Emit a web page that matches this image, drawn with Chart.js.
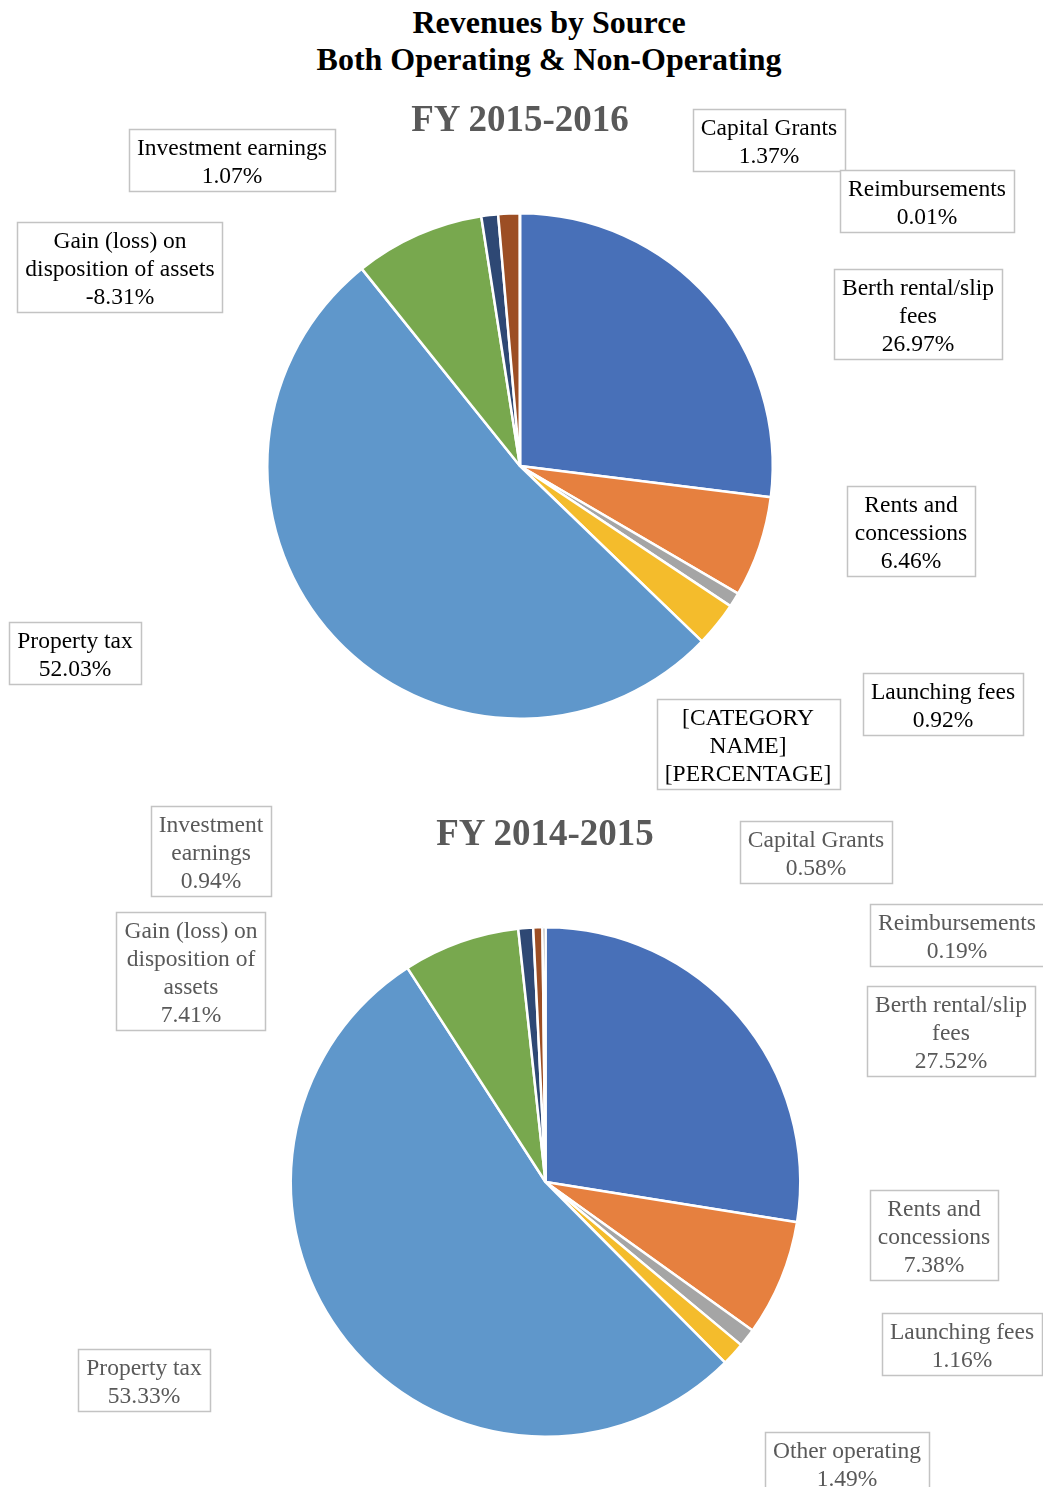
<!DOCTYPE html>
<html>
<head>
<meta charset="utf-8">
<script src="https://cdn.jsdelivr.net/npm/chart.js@4/dist/chart.umd.min.js"></script>
<style>
  body { margin: 0; background: #fff; width: 1043px; height: 1487px; overflow: hidden; position: relative; font-family: "Liberation Serif", "Times New Roman", serif; }
  .title { position: absolute; left: 0; width: 1098px; top: 4px; text-align: center; font-weight: bold; font-size: 32px; line-height: 37px; color: #000; }
  .sub { position: absolute; font-weight: bold; font-size: 37px; color: #595959; text-align: center; width: 400px; }
  #wrap1 { position: absolute; left: 0; top: 0; width: 1043px; height: 800px; }
  #wrap2 { position: absolute; left: 0; top: 790px; width: 1043px; height: 697px; }
</style>
</head>
<body>
<div class="title">Revenues by Source<br>Both Operating &amp; Non-Operating</div>
<div id="wrap1"><canvas id="pie2016"></canvas></div>
<div id="wrap2"><canvas id="pie2015"></canvas></div>
<div class="sub" style="left:320px; top:97px;">FY 2015-2016</div>
<div class="sub" style="left:345px; top:811px;">FY 2014-2015</div>
<script>
// Categories (clockwise from 12 o'clock)
const categories = ['Berth rental/slip fees', 'Rents and concessions', 'Launching fees', 'Other operating',
    'Property tax', 'Gain (loss) on disposition of assets', 'Investment earnings', 'Capital Grants', 'Reimbursements'];

// Percent shares as shown on the labels
const pct2016 = [26.97, 6.46, 0.92, 2.86, 52.03, -8.31, 1.07, 1.37, 0.01];
const pct2015 = [27.52, 7.38, 1.16, 1.49, 53.33, 7.41, 0.94, 0.58, 0.19];

const colors = ['#4870B8', '#E6803F', '#A5A5A5', '#F4BC2C', '#5F97CB', '#78A84E', '#2E4874', '#9C4E24', '#636363'];

// Label wrapping as in the original boxes
const lines2016 = [['Berth rental/slip', 'fees'], ['Rents and', 'concessions'], ['Launching fees'], ['[CATEGORY', 'NAME]'],
    ['Property tax'], ['Gain (loss) on', 'disposition of assets'], ['Investment earnings'], ['Capital Grants'], ['Reimbursements']];
const lines2015 = [['Berth rental/slip', 'fees'], ['Rents and', 'concessions'], ['Launching fees'], ['Other operating'],
    ['Property tax'], ['Gain (loss) on', 'disposition of', 'assets'], ['Investment', 'earnings'], ['Capital Grants'], ['Reimbursements']];

// Label box centres (page px)
const pos2016 = [[918, 314], [911, 531], [943, 704], [748, 744], [75, 653], [120, 267], [232, 160], [769, 140], [927, 201]];
const pos2015 = [[951, 1031], [934, 1235], [962, 1344], [847, 1463], [144, 1380], [191, 971], [211, 851], [816, 852], [957, 935]];

function fmt(v) { return v.toFixed(2) + '%'; }

const boxLabels = {
    id: 'boxLabels',
    afterDraw(chart, args, opts) {
        const ctx = chart.ctx;
        ctx.save();
        ctx.font = '23.5px "Liberation Serif", "Times New Roman", serif';
        ctx.textAlign = 'center';
        ctx.textBaseline = 'middle';
        const lh = 28;
        opts.lines.forEach((ln, i) => {
            let txt = ln.slice();
            if (opts.placeholder && i === opts.placeholder.index) txt.push(opts.placeholder.text);
            else txt.push(fmt(opts.pct[i]));
            const w = Math.max(...txt.map(t => ctx.measureText(t).width)) + 16;
            const h = txt.length * lh + 6;
            const cx = opts.pos[i][0];
            const cy = opts.pos[i][1] - opts.offsetY;
            ctx.fillStyle = '#fff';
            ctx.fillRect(cx - w / 2, cy - h / 2, w, h);
            ctx.strokeStyle = '#C3C3C3';
            ctx.lineWidth = 1.5;
            ctx.strokeRect(Math.round(cx - w / 2) + 0.5, Math.round(cy - h / 2) + 0.5, Math.round(w), Math.round(h));
            ctx.fillStyle = opts.color;
            txt.forEach((t, k) => {
                ctx.fillText(t, cx, cy - h / 2 + 3 + lh / 2 + k * lh + 2.5);
            });
        });
        ctx.restore();
    }
};

function makePie(id, pct, lines, pos, offsetY, padding, textColor, placeholder) {
    return new Chart(document.getElementById(id), {
        type: 'pie',
        data: {
            labels: categories,
            datasets: [{
                data: pct.map(v => Math.abs(v)),
                backgroundColor: colors,
                borderColor: '#fff',
                borderWidth: 2.5
            }]
        },
        options: {
            responsive: true,
            maintainAspectRatio: false,
            animation: false,
            layout: { padding: padding },
            plugins: {
                legend: { display: false },
                tooltip: { enabled: false },
                boxLabels: { pct: pct, lines: lines, pos: pos, offsetY: offsetY, color: textColor, placeholder: placeholder }
            }
        },
        plugins: [boxLabels]
    });
}

window.onload = () => {
    makePie('pie2016', pct2016, lines2016, pos2016, 0,
        { left: 266, right: 269, top: 212, bottom: 80 }, '#000',
        { index: 3, text: '[PERCENTAGE]' });
    makePie('pie2015', pct2015, lines2015, pos2015, 790,
        { left: 289, right: 241, top: 136, bottom: 49 }, '#595959', null);
};
</script>
</body>
</html>
